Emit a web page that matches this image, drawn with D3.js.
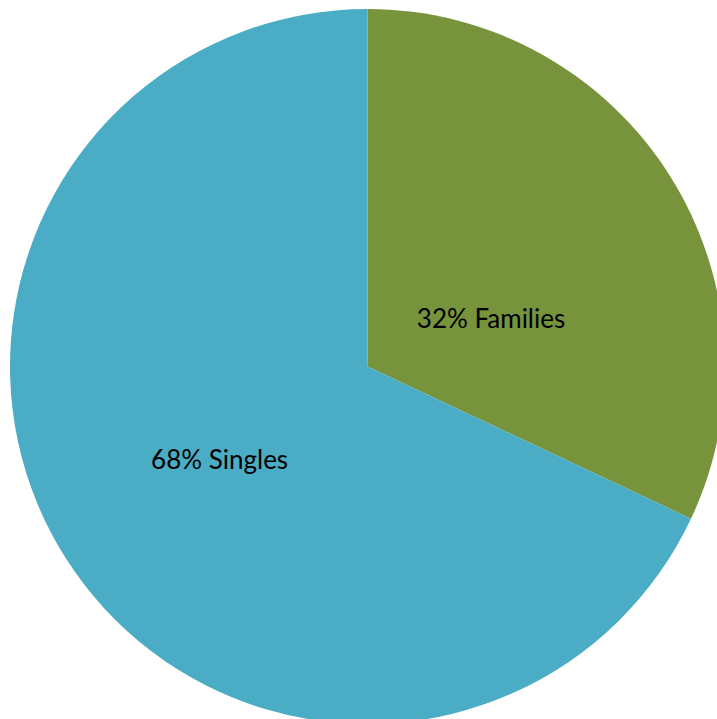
<!DOCTYPE html>
<html>
<head>
<meta charset="utf-8">
<script src="https://cdn.jsdelivr.net/npm/d3@7"></script>
<style>
  body { margin: 0; background: #fff; overflow: hidden; }
</style>
</head>
<body>
<div id="main"></div>
<script>
/* Define Size */
const width = 717, height = 719;

/* Define Data */
const names = ["Families", "Singles"];
const values = [32, 68];
const colors = ["#77933C", "#4BACC6"];

const dataset = names.map((n, i) => ({name: n, value: values[i]}));

const svg = d3.select("#main").append("svg")
  .attr("width", width).attr("height", height);

const cx = 367.5, cy = 366.5, r = 357.5;

const pie = d3.pie().value(d => d.value).sort(null);
const data = pie(dataset);
const arc = d3.arc().innerRadius(0).outerRadius(r);

// label spot: angle offset (rad) from slice middle, distance as fraction of r
const labelShift = [0.2, 0];
const labelDist = [0.37, 0.49];

const g = svg.append("g").attr("transform", `translate(${cx},${cy})`);

g.selectAll("path").data(data).enter().append("path")
  .attr("d", arc)
  .attr("fill", (d, i) => colors[i]);

g.selectAll("text").data(data).enter().append("text")
  .attr("x", (d, i) => {
    const a = (d.startAngle + d.endAngle) / 2 + labelShift[i];
    return Math.sin(a) * r * labelDist[i];
  })
  .attr("y", (d, i) => {
    const a = (d.startAngle + d.endAngle) / 2 + labelShift[i];
    return -Math.cos(a) * r * labelDist[i];
  })
  .attr("dy", "0.35em")
  .attr("text-anchor", "middle")
  .attr("font-family", "Lato, 'Open Sans', sans-serif")
  .attr("font-size", 26)
  .attr("fill", "#000")
  .text(d => d.data.value + "% " + d.data.name);
</script>
</body>
</html>
